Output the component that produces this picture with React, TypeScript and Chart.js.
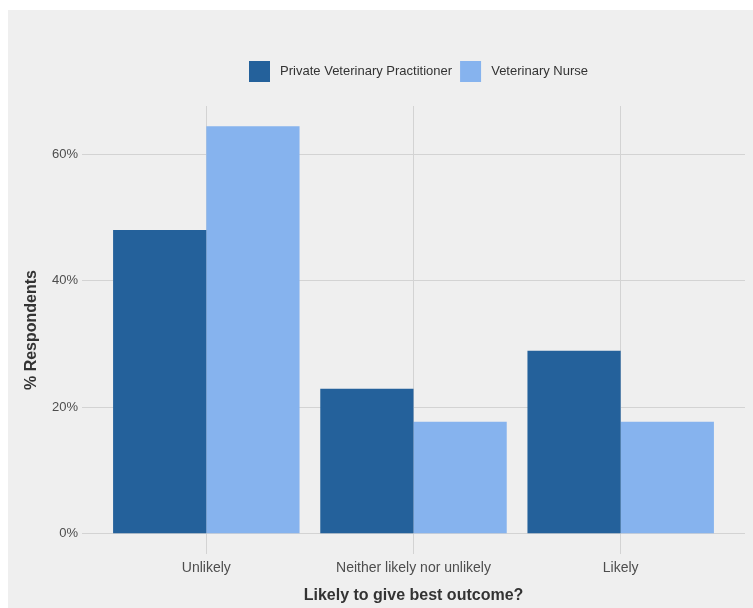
import React, { useEffect, useRef } from "react";
import { Chart, registerables } from "chart.js";

Chart.register(...registerables);

const categories = ["Unlikely", "Neither likely nor unlikely", "Likely"];
const categoryPositions = [1, 2, 3];
const seriesNames = ["Private Veterinary Practitioner", "Veterinary Nurse"];
const practitionerValues = [48.0, 22.9, 28.9];
const nurseValues = [64.4, 17.7, 17.7];
const yTickValues = [0, 20, 40, 60];

const FONT = "'Liberation Sans', Arial, Helvetica, sans-serif";

const legendShift = {
  id: "legendShift",
  afterLayout(chart: any) {
    if (chart.legend) {
      chart.legend.left += 5;
      chart.legend.right += 5;
    }
  },
};

export default function App() {
  const canvasRef = useRef<HTMLCanvasElement | null>(null);

  useEffect(() => {
    const canvas = canvasRef.current;
    if (!canvas) return;
    const chart = new Chart(canvas, {
      type: "bar",
      data: {
        datasets: [
          {
            label: seriesNames[0],
            data: categoryPositions.map((x, i) => ({ x, y: practitionerValues[i] })),
            backgroundColor: "#24619B",
            borderWidth: 0,
            categoryPercentage: 0.9,
            barPercentage: 1.0,
          },
          {
            label: seriesNames[1],
            data: categoryPositions.map((x, i) => ({ x, y: nurseValues[i] })),
            backgroundColor: "#86B3EE",
            borderWidth: 0,
            categoryPercentage: 0.9,
            barPercentage: 1.0,
          },
        ],
      },
      plugins: [legendShift],
      options: {
        responsive: false,
        animation: false,
        devicePixelRatio: 1,
        layout: { padding: { top: 43, left: 0, right: 8, bottom: 0 } },
        plugins: {
          tooltip: { enabled: false },
          legend: {
            display: true,
            position: "top",
            fullSize: false,
            labels: {
              boxWidth: 21,
              boxHeight: 21,
              padding: 8,
              color: "#333333",
              font: { family: FONT, size: 13 },
              generateLabels: (c: any) =>
                Chart.defaults.plugins.legend.labels
                  .generateLabels(c)
                  .map((item: any) => ({ ...item, text: " " + item.text })),
            },
          },
          title: {
            display: true,
            text: "",
            position: "top",
            weight: 500,
            font: { size: 1, lineHeight: 1 },
            padding: { top: 13, bottom: 0 },
          },
        },
        scales: {
          x: {
            type: "linear",
            min: 0.4,
            max: 3.6,
            offset: false,
            grid: { offset: false, color: "#d3d3d3", lineWidth: 1, drawTicks: false },
            border: { display: false },
            afterBuildTicks: (scale: any) => {
              scale.ticks = categoryPositions.map((v) => ({ value: v }));
            },
            afterFit: (scale: any) => {
              scale.height = 54;
            },
            ticks: {
              padding: 6,
              color: "#4d4d4d",
              font: { family: FONT, size: 14 },
              maxRotation: 0,
              autoSkip: false,
              callback: (v: any) => categories[categoryPositions.indexOf(Number(v))] ?? "",
            },
            title: {
              display: true,
              text: "Likely to give best outcome?",
              color: "#333333",
              font: { family: FONT, size: 16, weight: "bold" },
              padding: { top: 4, bottom: 2.4 },
            },
          },
          y: {
            type: "linear",
            min: -3.22,
            max: 67.62,
            grid: { color: "#d3d3d3", lineWidth: 1, drawTicks: false },
            border: { display: false },
            afterBuildTicks: (scale: any) => {
              scale.ticks = yTickValues.map((v) => ({ value: v }));
            },
            afterFit: (scale: any) => {
              scale.width = 74;
            },
            ticks: {
              padding: 4,
              color: "#4d4d4d",
              font: { family: FONT, size: 13 },
              callback: (v: any) => `${v}%`,
            },
            title: {
              display: true,
              text: "% Respondents",
              color: "#333333",
              font: { family: FONT, size: 16, weight: "bold" },
              padding: { top: 14, bottom: 0 },
            },
          },
        },
      } as any,
    });
    return () => chart.destroy();
  }, []);

  return (
    <div
      style={{
        position: "fixed",
        left: 8,
        top: 10,
        width: 745,
        height: 598,
        background: "#efefef",
      }}
    >
      <canvas ref={canvasRef} width={745} height={598} style={{ display: "block" }} />
    </div>
  );
}
